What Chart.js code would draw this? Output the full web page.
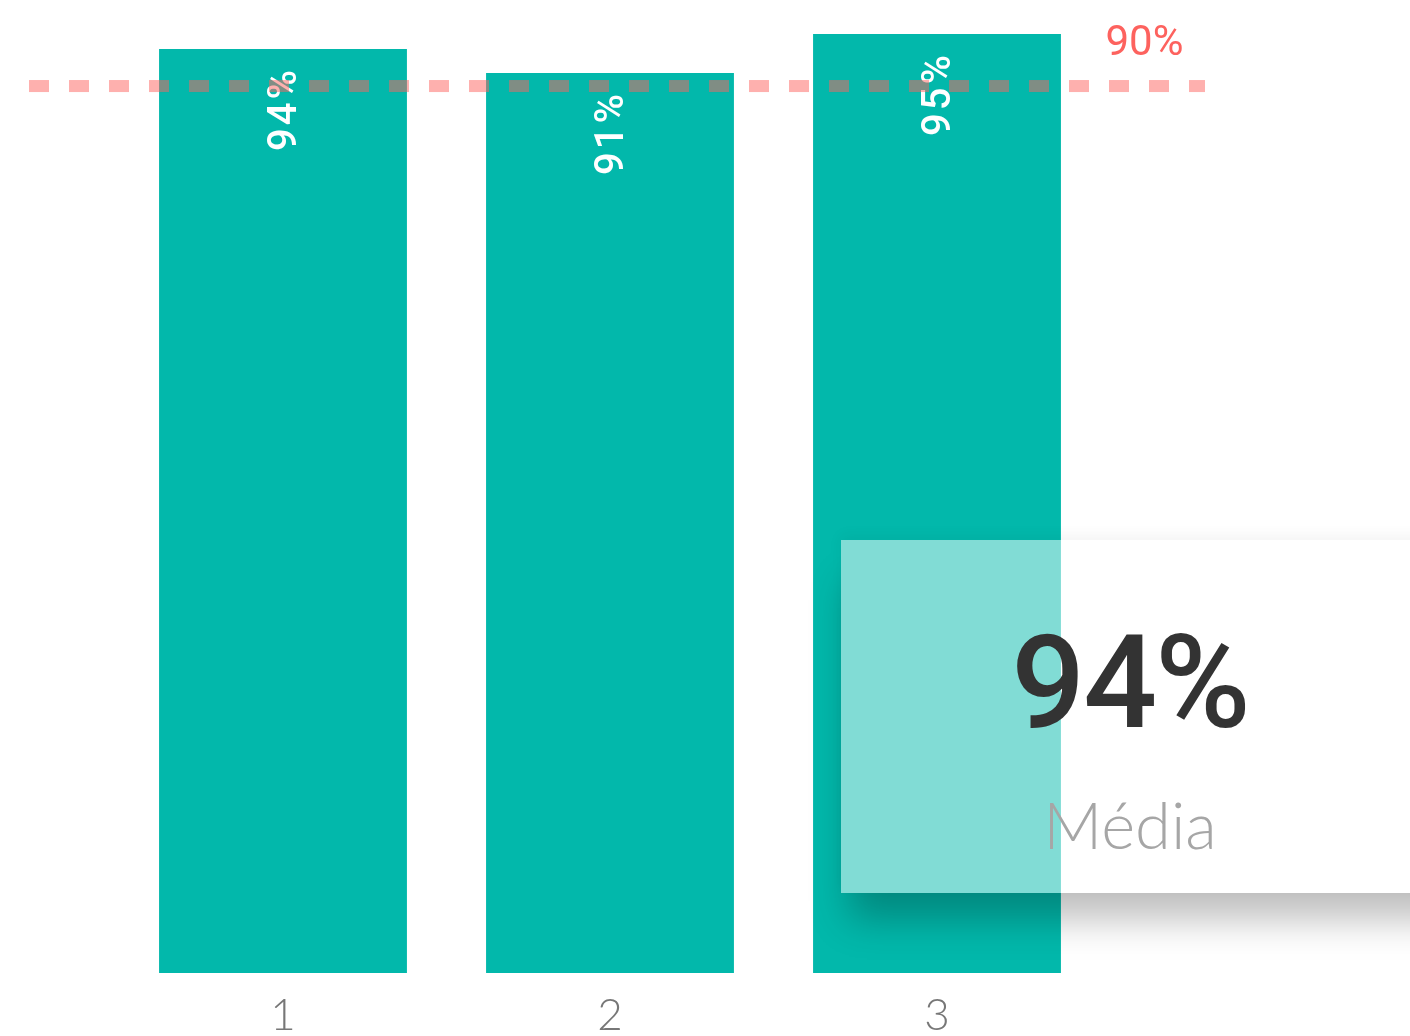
<!DOCTYPE html>
<html>
<head>
<meta charset="utf-8">
<script src="https://cdn.jsdelivr.net/npm/chart.js@4"></script>
<style>
    html, body { margin: 0; padding: 0; background: #fff; overflow: hidden; }
    #wrap { position: relative; width: 1410px; height: 1036px; overflow: hidden; }
    #kpi {
        position: absolute; left: 841px; top: 540px; width: 640px; height: 353px;
        background: rgba(255, 255, 255, 0.5);
        box-shadow: 0 34px 36px -8px rgba(0, 0, 0, 0.26), 0 -4px 14px rgba(0, 0, 0, 0.05);
    }
    #kpiValue {
        position: absolute; left: 0; top: 78px; width: 578px; text-align: center;
        font: 500 130px/130px Roboto, sans-serif; color: #333; letter-spacing: -2px;
    }
    #kpiLabel {
        position: absolute; left: 0; top: 252px; width: 578px; text-align: center;
        font: 300 65px/65px Lato, sans-serif; color: #a6a6a6;
    }
</style>
</head>
<body>
<div id="wrap">
    <!-- canvas runs 22px past the window so the tick labels sit low like the original -->
    <canvas id="chart" width="1410" height="1058"></canvas>
    <div id="kpi">
        <div id="kpiValue"></div>
        <div id="kpiLabel"></div>
    </div>
</div>
<script>
// data
const categories = ['1', '2', '3'];
const values = [0.9376, 0.9132, 0.9528];
const targetValue = 0.90;
const targetLabel = '90%';
const kpiValue = '94%';
const kpiLabel = 'Média';

const teal = '#02b8ab';
const targetColor = 'rgba(253, 98, 94, 0.5)';

document.getElementById('kpiValue').textContent = kpiValue;
document.getElementById('kpiLabel').textContent = kpiLabel;

const pct = (v) => Math.round(v * 100) + '%';

// rotated white labels inside the top of each bar
const barLabels = {
    id: 'barLabels',
    afterDatasetsDraw(chart) {
        const ctx = chart.ctx;
        const meta = chart.getDatasetMeta(0);
        ctx.save();
        ctx.fillStyle = '#fff';
        ctx.font = '500 40px Roboto, sans-serif';
        ctx.letterSpacing = '3px';
        ctx.textAlign = 'right';
        ctx.textBaseline = 'middle';
        meta.data.forEach((bar, i) => {
            ctx.save();
            ctx.translate(bar.x + 3, bar.y + 18);
            ctx.rotate(-Math.PI / 2);
            ctx.fillText(pct(values[i]), 0, 0);
            ctx.restore();
        });
        ctx.restore();
    }
};

// dashed constant line, drawn over the bars and past the plot on both sides
const targetLine = {
    id: 'targetLine',
    afterDatasetsDraw(chart) {
        const { ctx, chartArea, scales } = chart;
        const y = scales.y.getPixelForValue(targetValue);
        ctx.save();
        ctx.strokeStyle = targetColor;
        ctx.lineWidth = 12;
        ctx.setLineDash([20, 20]);
        ctx.beginPath();
        ctx.moveTo(chartArea.left - 90.5, y);
        ctx.lineTo(chartArea.right + 104.5, y);
        ctx.stroke();
        ctx.setLineDash([]);
        ctx.fillStyle = '#fd625e';
        ctx.font = '42px Roboto, sans-serif';
        ctx.textAlign = 'center';
        ctx.textBaseline = 'alphabetic';
        ctx.fillText(targetLabel, chartArea.right + 44, y - 31);
        ctx.restore();
    }
};

new Chart(document.getElementById('chart'), {
    type: 'bar',
    data: {
        labels: categories,
        datasets: [{
            data: values,
            backgroundColor: teal,
            borderWidth: 0,
            categoryPercentage: 1,
            barPercentage: 0.758
        }]
    },
    options: {
        responsive: false,
        animation: false,
        layout: {
            padding: { left: 119.5, right: 309.5, top: 0, bottom: 0 }
        },
        scales: {
            x: {
                grid: { display: false, drawTicks: false },
                border: { display: false },
                ticks: {
                    color: '#777',
                    padding: 22,
                    font: { family: 'Lato, sans-serif', size: 44, weight: 300, lineHeight: '41px' }
                }
            },
            y: {
                display: false,
                min: 0,
                max: 0.9873
            }
        },
        plugins: {
            legend: { display: false },
            tooltip: { enabled: false }
        }
    },
    plugins: [barLabels, targetLine]
});
</script>
</body>
</html>
